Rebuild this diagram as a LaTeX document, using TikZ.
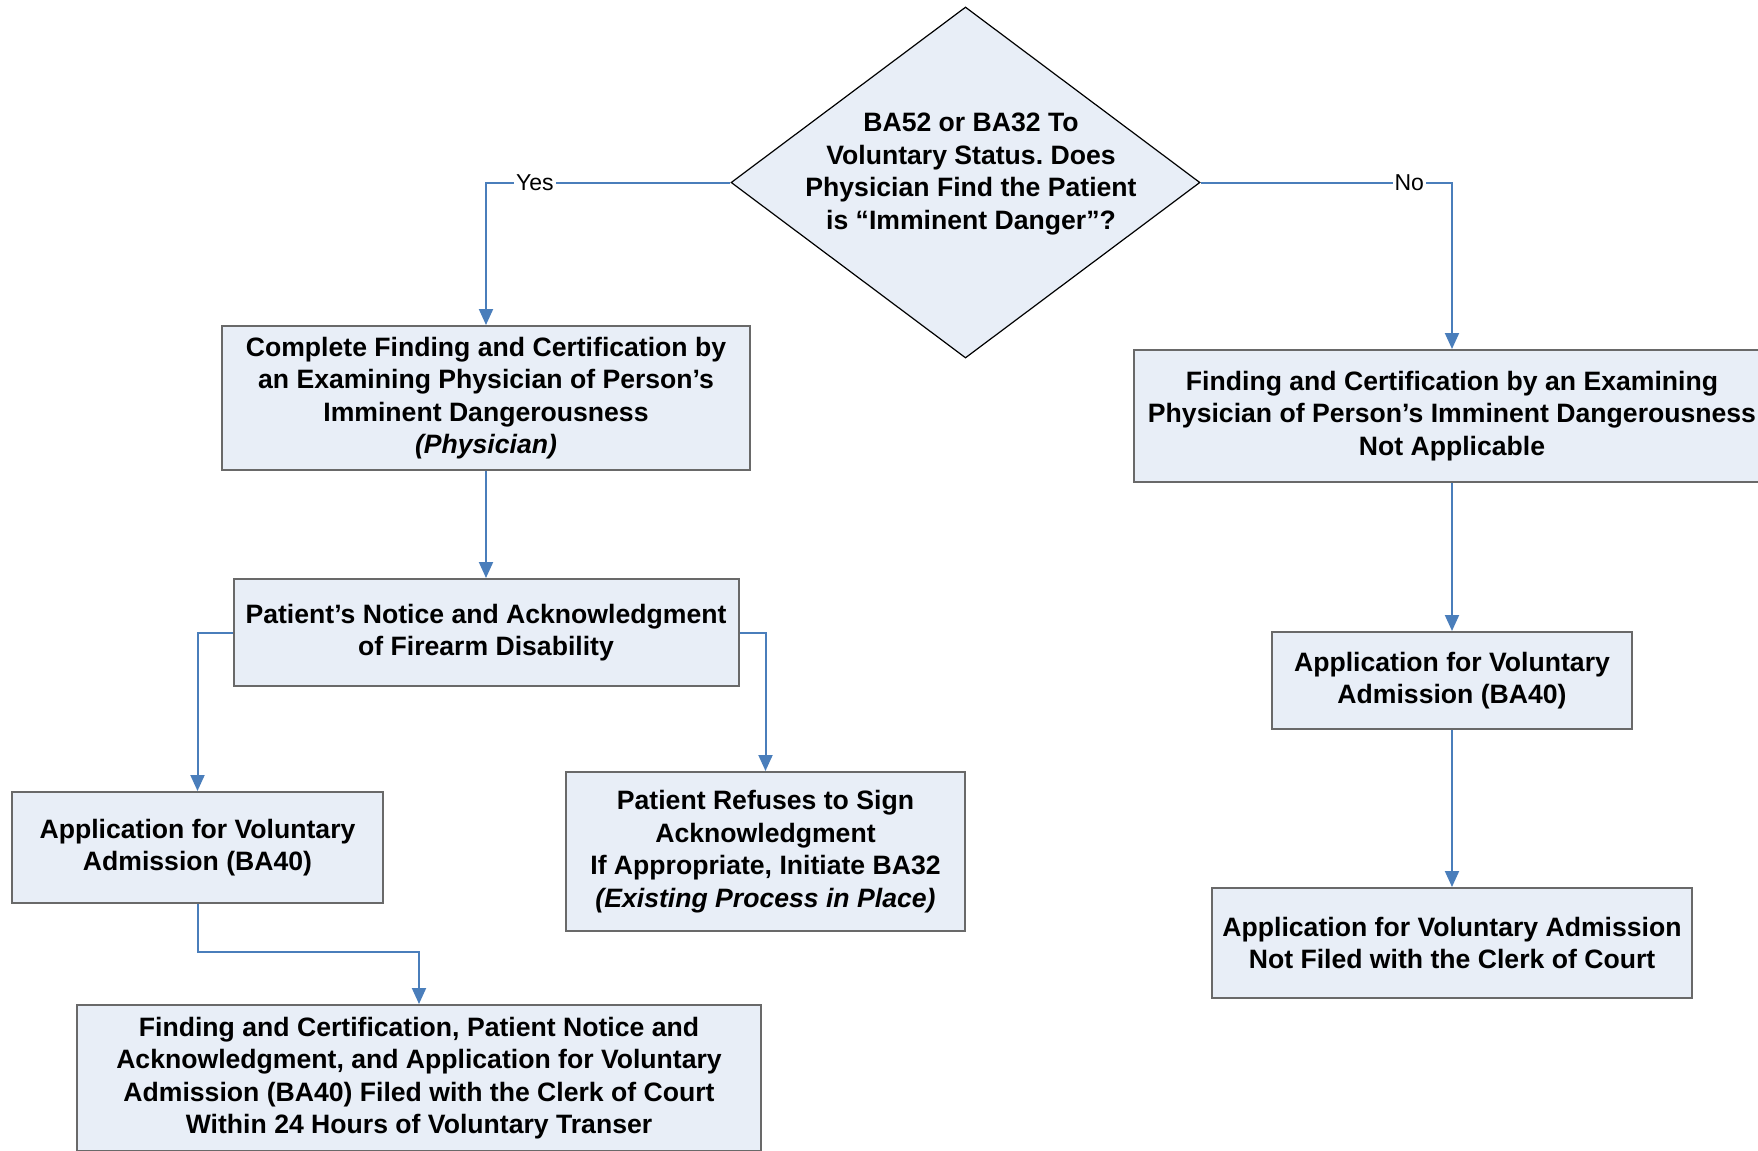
\documentclass[tikz,border=0pt]{standalone}
\usepackage{fontspec}
\setmainfont{Liberation Sans}
\usetikzlibrary{arrows.meta,shapes.geometric}
\frenchspacing
\definecolor{boxfill}{RGB}{232,238,247}
\definecolor{boxline}{RGB}{105,105,105}
\definecolor{arrowblue}{RGB}{74,126,187}
\tikzset{
  box/.style={draw=boxline, line width=1pt, fill=boxfill, inner sep=0pt, align=center,
    font=\fontsize{13.3}{16.25}\selectfont\bfseries},
  conn/.style={draw=arrowblue, line width=1pt, -{Triangle[width=7pt,length=8pt]}},
  lbl/.style={fill=white, inner sep=1pt, font=\fontsize{11.5}{13}\selectfont},
}
\begin{document}
\begin{tikzpicture}[x=0.5pt, y=-0.5pt]
\useasboundingbox (0,0) rectangle (1758,1151);
\clip (0,0) rectangle (1758,1151);
% decision
\node[diamond, draw=black, line width=0.6pt, fill=boxfill, inner sep=0pt,
  minimum width=234.5pt, minimum height=175.5pt] (dec) at (965.5,182.5) {};
\node[box, draw=none, fill=none] (dectxt) at (971,174)
  {BA52 or BA32 To\\Voluntary Status. Does\\Physician Find the Patient\\is “Imminent Danger”?};
% yes branch
\node[box, minimum width=264pt, minimum height=72pt] (cert) at (486,398)
  {Complete Finding and Certification by\\an Examining Physician of Person’s\\Imminent Dangerousness\\\textit{(Physician)}};
\node[box, minimum width=252.5pt, minimum height=53.5pt] (notice) at (486,632.5)
  {Patient’s Notice and Acknowledgment\\of Firearm Disability};
\node[box, minimum width=185.5pt, minimum height=55.5pt] (applL) at (197.5,847.5)
  {Application for Voluntary\\Admission (BA40)};
\node[box, minimum width=199.5pt, minimum height=79.5pt] (refuse) at (765.5,851.5)
  {Patient Refuses to Sign\\Acknowledgment\\If Appropriate, Initiate BA32\\\textit{(Existing Process in Place)}};
\node[box, minimum width=342pt, minimum height=73pt] (filed) at (419,1078)
  {Finding and Certification, Patient Notice and\\Acknowledgment, and Application for Voluntary\\Admission (BA40) Filed with the Clerk of Court\\Within 24 Hours of Voluntary Transer};
% no branch
\node[box, minimum width=318pt, minimum height=66pt] (na) at (1452,416)
  {Finding and Certification by an Examining\\Physician of Person’s Imminent Dangerousness\\Not Applicable};
\node[box, minimum width=180pt, minimum height=48.5pt] (applR) at (1452,680.5)
  {Application for Voluntary\\Admission (BA40)};
\node[box, minimum width=240pt, minimum height=55pt] (notfiled) at (1452,943)
  {Application for Voluntary Admission\\Not Filed with the Clerk of Court};
% connectors
\draw[conn] (dec.west) -| node[lbl, pos=0.4] (yes) {Yes} (cert.north);
\draw[conn] (dec.east) -| node[lbl, pos=0.415] (no) {No} (na.north);
\draw[conn] (cert.south) -- (notice.north);
\draw[conn] (notice.west) -| (applL.north);
\draw[conn] (notice.east) -| (refuse.north);
\draw[conn] (applL.south) -- ++(0,48) -| (filed.north);
\draw[conn] (na.south) -- (applR.north);
\draw[conn] (applR.south) -- (notfiled.north);
\end{tikzpicture}
\end{document}
